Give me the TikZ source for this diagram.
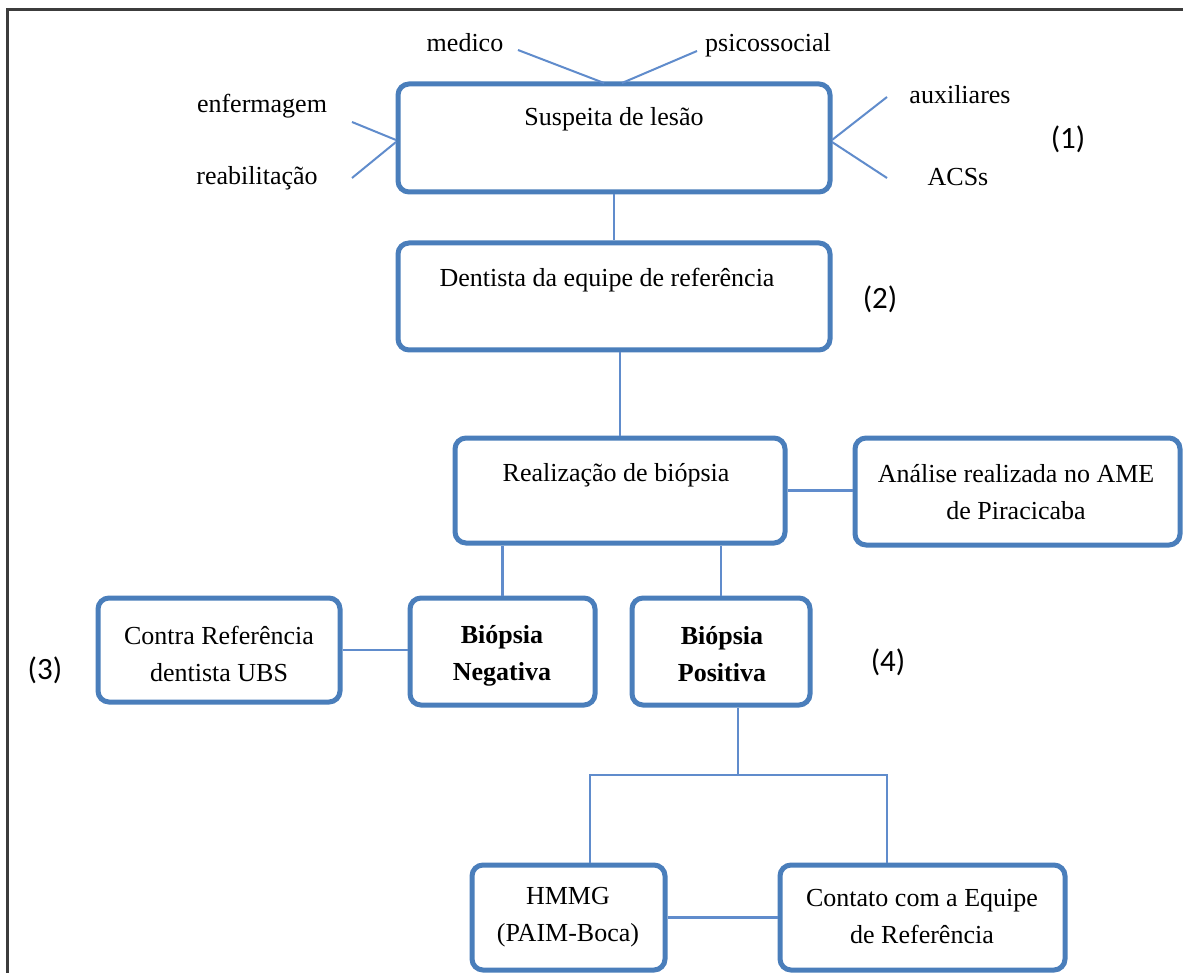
\documentclass[tikz,border=0pt]{standalone}
\usepackage{fontspec}
\setmainfont{Liberation Serif}
\newfontfamily\numfont{Carlito}
\definecolor{boxblue}{RGB}{74,126,187}
\definecolor{linkblue}{RGB}{96,140,204}
\definecolor{framegray}{RGB}{60,60,60}
\begin{document}
\begin{tikzpicture}[x=1pt,y=-1pt,
  box/.style={draw=boxblue,line width=5pt,rounded corners=11pt,fill=white,inner sep=0pt},
  txt/.style={font=\fontsize{26}{37}\selectfont,align=center,inner sep=0pt},
  btxt/.style={txt,font=\fontsize{26}{37}\selectfont\bfseries},
  num/.style={font=\numfont\fontsize{31}{33}\selectfont,inner sep=0pt},
  link/.style={draw=linkblue,line width=2.5pt},
  spoke/.style={draw=linkblue,line width=2pt}]
\useasboundingbox (0,0) rectangle (1183,973);
\fill[white] (0,0) rectangle (1183,973);
% outer frame (open at right and bottom)
\draw[framegray,line width=3pt] (7,973) -- (7,10) -- (1183,10);

% boxes
\node[box,minimum width=432pt,minimum height=108pt] (sus) at (614,138) {};
\node[box,minimum width=432pt,minimum height=107pt] (den) at (614,296.5) {};
\node[box,minimum width=330pt,minimum height=105pt] (rea) at (620,490.5) {};
\node[box,minimum width=325pt,minimum height=107pt] (ana) at (1017.5,491.5) {};
\node[box,minimum width=242pt,minimum height=104pt] (con) at (219,650) {};
\node[box,minimum width=185pt,minimum height=107pt] (neg) at (502.5,651.5) {};
\node[box,minimum width=178pt,minimum height=107pt] (pos) at (721,651.5) {};
\node[box,minimum width=193pt,minimum height=105pt] (hmg) at (568.5,917.5) {};
\node[box,minimum width=285pt,minimum height=105pt] (cot) at (922.5,917.5) {};

% box texts
\node[txt,anchor=base] (tsus) at (614,126) {Suspeita de lesão};
\node[txt,anchor=base] (tden) at (607,287) {Dentista da equipe de referência};
\node[txt,anchor=base] (trea) at (616,481) {Realização de biópsia};
\node[txt] (tana) at (1016,492) {Análise realizada no AME\\de Piracicaba};
\node[txt] (tcon) at (219,654) {Contra Referência\\dentista UBS};
\node[btxt] (tneg) at (502,656) {Biópsia\\Negativa};
\node[btxt] (tpos) at (722,654) {Biópsia\\Positiva};
\node[txt] (thmg) at (568,917) {HMMG\\(PAIM-Boca)};
\node[txt] (tcot) at (922,917) {Contato com a Equipe\\de Referência};

% team members around the first box
\node[txt,anchor=base] (med) at (465,52) {medico};
\node[txt,anchor=base] (psi) at (768,52) {psicossocial};
\node[txt,anchor=base] (enf) at (262,113) {enfermagem};
\node[txt,anchor=base] (reab) at (257,185) {reabilitação};
\node[txt,anchor=base] (aux) at (960,104) {auxiliares};
\node[txt,anchor=base] (acs) at (958,186) {ACSs};

% step numbers
\node[num,anchor=base] (n1) at (1068,149) {(1)};
\node[num,anchor=base] (n2) at (880,309) {(2)};
\node[num,anchor=base] (n3) at (45,679) {(3)};
\node[num,anchor=base] (n4) at (888,671) {(4)};

% spoke ends: start near each label, finish on the first box
\coordinate (medS) at (518,50);
\coordinate (psiS) at (697,51);
\coordinate (enfS) at (352,122);
\coordinate (reabS) at (352,178);
\coordinate (auxS) at (887,97);
\coordinate (acsS) at (887,178);
\coordinate (topA) at (604,83);
\coordinate (topB) at (622,83);
\coordinate (leftA) at (396,140);
\coordinate (leftB) at (396,142);
\coordinate (rightA) at (832,140);
\coordinate (rightB) at (832,142);
\draw[spoke] (medS) -- (topA);
\draw[spoke] (psiS) -- (topB);
\draw[spoke] (enfS) -- (leftA);
\draw[spoke] (reabS) -- (leftB);
\draw[spoke] (auxS) -- (rightA);
\draw[spoke] (acsS) -- (rightB);

% flow connectors
\draw[link] (sus.south) -- (den.north);
\draw[link] (rea.north) -- (rea.north |- den.south);
\draw[link] (rea.east) -- (rea.east -| ana.west);
\draw[link] (neg.north) -- (neg.north |- rea.south);
\draw[link] (pos.north) -- (pos.north |- rea.south);
\draw[link] (con.east) -- (con.east -| neg.west);
\coordinate (split) at (738,775);
\coordinate (splitL) at (590,775);
\coordinate (splitR) at (887,775);
\draw[link] (split |- pos.south) -- (split);
\draw[link] (hmg.north -| splitL) -- (splitL) -- (splitR) -- (cot.north -| splitR);
\draw[link] (hmg.east) -- (hmg.east -| cot.west);
\end{tikzpicture}
\end{document}
